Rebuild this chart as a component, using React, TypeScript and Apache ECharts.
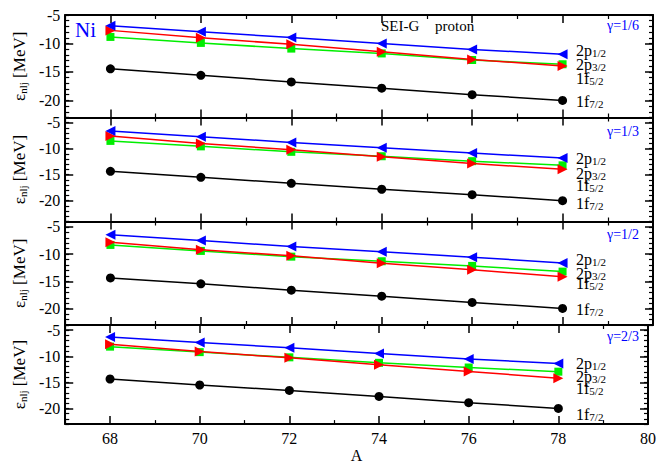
import React, { useEffect, useRef } from "react";
import * as echarts from "echarts";

// ---------- data ----------
const A = [68, 70, 72, 74, 76, 78];

// gamma = 1/6
const g16_2p12 = [-6.9, -7.95, -8.95, -10.0, -11.05, -11.9];
const g16_2p32 = [-8.85, -9.9, -10.9, -11.75, -12.9, -13.65];
const g16_1f52 = [-7.7, -9.0, -10.15, -11.45, -12.8, -13.95];
const g16_1f72 = [-14.45, -15.6, -16.75, -17.85, -19.0, -20.0];

// gamma = 1/3
const g13_2p12 = [-6.6, -7.7, -8.8, -9.8, -10.85, -11.8];
const g13_2p32 = [-8.5, -9.55, -10.6, -11.45, -12.4, -13.2];
const g13_1f52 = [-7.55, -9.0, -10.2, -11.55, -12.85, -13.95];
const g13_1f72 = [-14.35, -15.5, -16.65, -17.8, -18.85, -20.0];

// gamma = 1/2
const g12_2p12 = [-6.45, -7.5, -8.6, -9.55, -10.55, -11.6];
const g12_2p32 = [-8.3, -9.4, -10.45, -11.3, -12.15, -13.2];
const g12_1f52 = [-7.8, -9.2, -10.3, -11.65, -12.85, -14.15];
const g12_1f72 = [-14.35, -15.45, -16.6, -17.7, -18.85, -19.95];

// gamma = 2/3
const g23_2p12 = [-6.3, -7.35, -8.35, -9.45, -10.5, -11.4];
const g23_2p32 = [-8.15, -9.2, -10.2, -11.25, -12.15, -12.95];
const g23_1f52 = [-7.7, -9.1, -10.3, -11.6, -12.9, -14.2];
const g23_1f72 = [-14.35, -15.5, -16.55, -17.7, -18.9, -20.0];

const gammaLabels = ["γ=1/6", "γ=1/3", "γ=1/2", "γ=2/3"];
const panelData = [
  [g16_1f72, g16_2p32, g16_1f52, g16_2p12],
  [g13_1f72, g13_2p32, g13_1f52, g13_2p12],
  [g12_1f72, g12_2p32, g12_1f52, g12_2p12],
  [g23_1f72, g23_2p32, g23_1f52, g23_2p12],
];
const seriesNames = ["1f7/2", "2p3/2", "1f5/2", "2p1/2"];
const levelMain = ["2p", "2p", "1f", "1f"];
const levelSub = ["1/2", "3/2", "5/2", "7/2"];

const xMajorTicks = [68, 70, 72, 74, 76, 78, 80];
const xMinorTicks = [67, 69, 71, 73, 75, 77, 79];
const yMajorTicks = [-5, -10, -15, -20];
const yRanges = [
  [-23, -5],
  [-24, -4],
  [-23, -4],
  [-23, -4],
];

// ---------- styling / layout ----------
const FONT = "'Liberation Serif', 'Times New Roman', serif";
const colors = ["#000000", "#00ee00", "#ff0000", "#0000ff"];
const symbols = ["circle", "rect", "triangle", "triangle"];
const symbolRot = [0, 0, -90, 90];
const gridTops = [15, 117.5, 221.5, 325];
const gridBottomLast = 427.7;
const LEFT = 65;
const RIGHT_EDGE = 653;
const levelLabelY = [
  [47.5, 61.7, 75, 98.3],
  [155.7, 170, 182.7, 200],
  [256.7, 270, 280, 306.7],
  [360, 373.3, 385, 411.7],
];
const gammaY = [25, 131.7, 234, 336.7];

function range(a: number, b: number) {
  const r: number[] = [];
  for (let v = a; v <= b; v++) r.push(v);
  return r;
}

export default function App() {
  const ref = useRef<HTMLDivElement>(null);
  useEffect(() => {
    if (!ref.current) return;
    const chart = echarts.init(ref.current, null, { renderer: "svg" });
    const grids: any[] = [];
    const xAxes: any[] = [];
    const yAxes: any[] = [];
    const series: any[] = [];
    const graphic: any[] = [];
    const lineStyle = { color: "#000", width: 2 };

    for (let p = 0; p < 4; p++) {
      const top = gridTops[p];
      const bottom = p < 3 ? gridTops[p + 1] : gridBottomLast;
      grids.push({ left: LEFT, width: RIGHT_EDGE - LEFT, top, height: bottom - top });
      const last = p === 3;
      const xBase = {
        type: "value",
        gridIndex: p,
        min: 67,
        max: 80,
        splitLine: { show: false },
        axisLine: { show: false, onZero: false },
      };
      xAxes.push({
        ...xBase,
        position: "bottom",
        axisLine: { show: true, onZero: false, lineStyle },
        axisTick: { inside: true, length: 8, customValues: xMajorTicks, lineStyle: { color: "#000", width: 1.5 } },
        axisLabel: {
          show: last,
          customValues: xMajorTicks,
          fontFamily: FONT,
          fontSize: 16,
          color: "#000",
          margin: 6,
        },
        name: last ? "A" : "",
        nameLocation: "middle",
        nameGap: 22,
        nameTextStyle: { fontFamily: FONT, fontSize: 16, color: "#000" },
      });
      xAxes.push({
        ...xBase,
        position: "bottom",
        axisTick: { inside: true, length: 4, customValues: xMinorTicks, lineStyle: { color: "#000", width: 1.2 } },
        axisLabel: { show: false, customValues: xMinorTicks },
      });
      xAxes.push({
        ...xBase,
        position: "top",
        axisLine: { show: true, onZero: false, lineStyle },
        axisTick: { inside: true, length: 8, customValues: xMajorTicks, lineStyle: { color: "#000", width: 1.5 } },
        axisLabel: { show: false, customValues: xMajorTicks },
      });
      xAxes.push({
        ...xBase,
        position: "top",
        axisTick: { inside: true, length: 4, customValues: xMinorTicks, lineStyle: { color: "#000", width: 1.2 } },
        axisLabel: { show: false, customValues: xMinorTicks },
      });

      const [ymin, ymax] = yRanges[p];
      const yMinor = range(ymin, ymax);
      const yBase = {
        type: "value",
        gridIndex: p,
        min: ymin,
        max: ymax,
        splitLine: { show: false },
        axisLine: { show: false, onZero: false },
      };
      yAxes.push({
        ...yBase,
        position: "left",
        axisLine: { show: true, onZero: false, lineStyle },
        axisTick: { inside: true, length: 8, customValues: yMajorTicks, lineStyle: { color: "#000", width: 1.5 } },
        axisLabel: {
          customValues: yMajorTicks,
          fontFamily: FONT,
          fontSize: 16,
          color: "#000",
          margin: 5,
        },
        name: "{e|ε}{s|nlj}{e| [MeV]}",
        nameLocation: "middle",
        nameRotate: 90,
        nameGap: 36,
        nameTextStyle: {
          color: "#000",
          rich: {
            e: { fontFamily: FONT, fontSize: 17, color: "#000", lineHeight: 17, verticalAlign: "top" },
            s: { fontFamily: FONT, fontSize: 11, color: "#000", lineHeight: 11, padding: [9, 0, 0, 0], verticalAlign: "bottom" },
          },
        },
      });
      yAxes.push({
        ...yBase,
        position: "left",
        axisTick: { inside: true, length: 4, customValues: yMinor, lineStyle: { color: "#000", width: 1.2 } },
        axisLabel: { show: false, customValues: yMinor },
      });
      yAxes.push({
        ...yBase,
        position: "right",
        axisLine: { show: true, onZero: false, lineStyle },
        axisTick: { inside: true, length: 8, customValues: yMajorTicks, lineStyle: { color: "#000", width: 1.5 } },
        axisLabel: { show: false, customValues: yMajorTicks },
      });
      yAxes.push({
        ...yBase,
        position: "right",
        axisTick: { inside: true, length: 4, customValues: yMinor, lineStyle: { color: "#000", width: 1.2 } },
        axisLabel: { show: false, customValues: yMinor },
      });

      panelData[p].forEach((vals, k) => {
        series.push({
          type: "line",
          name: seriesNames[k],
          xAxisIndex: p * 4,
          yAxisIndex: p * 4,
          data: A.map((a, i) => [a, vals[i]]),
          symbol: symbols[k],
          symbolRotate: symbolRot[k],
          symbolSize: k === 0 ? 9 : k === 1 ? 8 : 10,
          showSymbol: true,
          color: colors[k],
          itemStyle: { color: colors[k] },
          lineStyle: { color: colors[k], width: 1.5 },
        });
      });

      // level labels
      for (let k = 0; k < 4; k++) {
        graphic.push({
          type: "text",
          left: 576,
          top: levelLabelY[p][k] - 8,
          style: {
            text: `{m|${levelMain[k]}}{s|${levelSub[k]}}`,
            fill: "#000",
            rich: {
              m: { fontFamily: FONT, fontSize: 16, fill: "#000", lineHeight: 16, verticalAlign: "top" },
              s: { fontFamily: FONT, fontSize: 11, fill: "#000", lineHeight: 11, padding: [8, 0, 0, 0], verticalAlign: "bottom" },
            },
          },
        });
      }
      graphic.push({
        type: "text",
        right: 659 - 639,
        top: gammaY[p] - 7,
        style: { text: gammaLabels[p], fontFamily: FONT, fontSize: 14, fill: "#0000ff" },
      });
    }

    graphic.push({
      type: "text",
      left: 75,
      top: 19,
      style: { text: "Ni", fontFamily: FONT, fontSize: 21, fill: "#0000ff" },
    });
    graphic.push({
      type: "text",
      left: 381,
      top: 18,
      style: { text: "SEI-G", fontFamily: FONT, fontSize: 15, fill: "#000" },
    });
    graphic.push({
      type: "text",
      left: 435,
      top: 18,
      style: { text: "proton", fontFamily: FONT, fontSize: 15, fill: "#000" },
    });

    chart.setOption({
      animation: false,
      backgroundColor: "#ffffff",
      grid: grids,
      xAxis: xAxes,
      yAxis: yAxes,
      series,
      graphic,
    });
    return () => chart.dispose();
  }, []);
  return (
    <div
      ref={ref}
      style={{ position: "fixed", left: 0, top: 0, width: 659, height: 464, background: "#fff" }}
    />
  );
}
